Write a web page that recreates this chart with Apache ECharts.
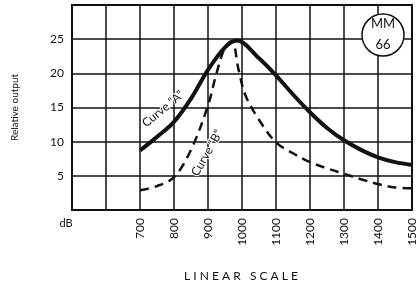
<!DOCTYPE html>
<html lang="en">
  <head>
    <meta charset="UTF-8" />
    <title>Relative output vs frequency</title>
    <script src="https://cdn.jsdelivr.net/npm/echarts@6/dist/echarts.min.js"></script>
    <style>
      html, body { margin: 0; padding: 0; background: #fff; }
      #chart { width: 418px; height: 287px; }
    </style>
  </head>
  <body>
    <div id="chart"></div>
    <script>
      // frequency points (linear scale) and the two response curves, dB
      const freqA = [700, 750, 800, 850, 900, 950, 985, 1050, 1100, 1150, 1200, 1250, 1300, 1350, 1400, 1450, 1500]
      const curveA = [8.7, 10.7, 12.9, 16.3, 20.5, 23.8, 24.8, 22.2, 19.7, 16.9, 14.3, 12.0, 10.2, 8.8, 7.7, 7.0, 6.6]
      const freqB = [700, 750, 800, 850, 900, 925, 950, 970, 990, 1010, 1050, 1100, 1150, 1200, 1250, 1300, 1350, 1400, 1450, 1500]
      const curveB = [2.9, 3.5, 4.8, 8.8, 15.3, 20.0, 23.8, 24.7, 20.5, 16.8, 13.2, 9.9, 8.3, 7.0, 6.1, 5.3, 4.5, 3.8, 3.3, 3.2]
      const xTicks = [700, 800, 900, 1000, 1100, 1200, 1300, 1400, 1500]
      const yTicks = [5, 10, 15, 20, 25]

      const font = 'Lato, "DejaVu Sans", sans-serif'
      const chart = echarts.init(document.getElementById('chart'))

      chart.setOption({
        animation: false,
        backgroundColor: '#fff',
        grid: {
          left: 72, right: 5, top: 5, bottom: 77,
          show: true, borderColor: '#111', borderWidth: 2
        },
        xAxis: {
          type: 'value', min: 500, max: 1500, interval: 100,
          axisLine: { show: true, lineStyle: { color: '#111', width: 2 } },
          axisTick: { show: false },
          splitLine: { show: true, lineStyle: { color: '#111', width: 1.5 } },
          axisLabel: {
            rotate: 90, color: '#111', fontFamily: font, fontSize: 12, margin: 8,
            formatter: v => xTicks.includes(v) ? String(v) : ''
          }
        },
        yAxis: {
          type: 'value', min: 0, max: 30, interval: 5,
          name: 'Relative output', nameLocation: 'middle', nameGap: 52,
          nameTextStyle: { color: '#111', fontFamily: font, fontSize: 10 },
          axisLine: { show: true, lineStyle: { color: '#111', width: 2 } },
          axisTick: { show: false },
          splitLine: { show: true, lineStyle: { color: '#111', width: 1.5 } },
          axisLabel: {
            color: '#111', fontFamily: font, fontSize: 12, margin: 8,
            formatter: v => yTicks.includes(v) ? String(v) : ''
          }
        },
        series: [
          {
            name: 'Curve A', type: 'line', smooth: 0.35, symbol: 'none', z: 4,
            lineStyle: { color: '#111', width: 4 },
            data: freqA.map((f, i) => [f, curveA[i]])
          },
          {
            name: 'Curve B', type: 'line', smooth: 0.35, symbol: 'none', z: 3,
            lineStyle: { color: '#111', width: 2.5, type: [9, 6] },
            data: freqB.map((f, i) => [f, curveB[i]])
          }
        ],
        graphic: [
          {
            type: 'text', x: 163, y: 109, rotation: 0.69, z: 10,
            style: { text: 'Curve \u201CA\u201D', font: '12px ' + font, fill: '#111',
              align: 'center', verticalAlign: 'middle', stroke: '#fff', lineWidth: 2 }
          },
          {
            type: 'text', x: 207, y: 153, rotation: 1.05, z: 10,
            style: { text: 'Curve \u201CB\u201D', font: '12px ' + font, fill: '#111',
              align: 'center', verticalAlign: 'middle', stroke: '#fff', lineWidth: 2 }
          },
          {
            type: 'circle', shape: { cx: 383, cy: 35, r: 21 }, z: 10,
            style: { fill: '#fff', stroke: '#111', lineWidth: 1.5 }
          },
          {
            type: 'text', x: 383, y: 24, z: 11,
            style: { text: 'MM', font: '13px ' + font, fill: '#111', align: 'center', verticalAlign: 'middle' }
          },
          {
            type: 'text', x: 383, y: 45, z: 11,
            style: { text: '66', font: '13px ' + font, fill: '#111', align: 'center', verticalAlign: 'middle' }
          },
          {
            type: 'text', x: 66, y: 223, z: 11,
            style: { text: 'dB', font: '11px ' + font, fill: '#111', align: 'center', verticalAlign: 'middle' }
          },
          {
            type: 'text', x: 241, y: 276, z: 11,
            style: { text: 'L I N E A R   S C A L E', font: '12px ' + font, fill: '#111', align: 'center', verticalAlign: 'middle' }
          }
        ]
      })
    </script>
  </body>
</html>
